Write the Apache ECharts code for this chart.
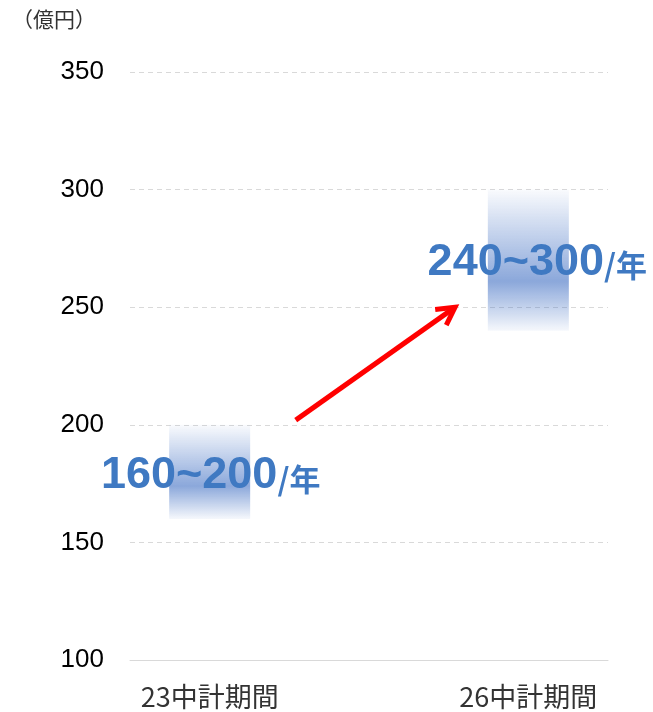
<!DOCTYPE html>
<html>
<head>
<meta charset="utf-8">
<script src="https://cdn.jsdelivr.net/npm/echarts@6/dist/echarts.min.js"></script>
<style>
  html, body { margin: 0; padding: 0; background: #fff; }
  #chart { width: 653px; height: 712px; }
</style>
</head>
<body>
<div id="chart"></div>
<script>
const categories = ['23中計期間', '26中計期間']
const lowValues = [160, 240]
const highValues = [200, 300]
const yTicks = [100, 150, 200, 250, 300, 350]
// arrow from / to, in data coords (x = category index)
const arrowFrom = [0.27, 202]
const arrowTo = [0.77, 250]

const chart = echarts.init(document.getElementById('chart'))
const blue = '#3f79c2'

const option = {
  animation: false,
  grid: { left: 130, right: 45, top: 72, bottom: 52 },
  graphic: [{
    type: 'text',
    left: 12,
    top: 9,
    style: { text: '（億円）', fontSize: 21, fill: '#333', fontFamily: 'Noto Sans CJK JP' }
  }],
  xAxis: {
    type: 'value',
    min: -0.25,
    max: 1.25,
    interval: 0.25,
    splitLine: { show: false },
    axisTick: { show: false },
    axisLine: { show: true, lineStyle: { color: '#d9d9d9', width: 1 } },
    axisLabel: {
      margin: 23,
      fontSize: 27,
      color: '#333',
      fontFamily: 'Noto Sans CJK JP',
      formatter: v => (Number.isInteger(v) && categories[v]) ? categories[v] : ''
    }
  },
  yAxis: {
    type: 'value',
    min: yTicks[0],
    max: yTicks[yTicks.length - 1],
    interval: 50,
    axisLine: { show: false },
    axisTick: { show: false },
    axisLabel: { fontSize: 26, color: '#000', margin: 26, fontFamily: 'Liberation Sans' },
    splitLine: { lineStyle: { color: '#d9d9d9', type: [5, 4], width: 1 } }
  },
  series: [
    {
      type: 'custom',
      data: categories.map((c, i) => [i, lowValues[i], highValues[i]]),
      renderItem: (params, api) => {
        const i = api.value(0)
        const top = api.coord([i, api.value(2)])
        const bot = api.coord([i, api.value(1)])
        const mid = api.coord([i, (api.value(1) + api.value(2)) / 2])
        const w = 81
        return {
          type: 'group',
          children: [
            {
              type: 'rect',
              shape: { x: top[0] - w / 2, y: top[1], width: w, height: bot[1] - top[1] },
              style: {
                fill: new echarts.graphic.LinearGradient(0, 0, 0, 1, [
                  { offset: 0, color: 'rgba(68,114,196,0.03)' },
                  { offset: 0.65, color: 'rgba(68,114,196,0.62)' },
                  { offset: 1, color: 'rgba(68,114,196,0.05)' }
                ])
              }
            },
            {
              type: 'text',
              x: mid[0] + (i === 1 ? 9 : 1),
              y: mid[1] + (i === 1 ? 2 : 4),
              style: {
                text: '{n|' + api.value(1) + '~' + api.value(2) + '}{u|/年}',
                align: 'center',
                verticalAlign: 'middle',
                rich: {
                  n: { fontSize: 45, fontWeight: 'bold', fill: blue, fontFamily: 'Liberation Sans' },
                  u: { fontSize: 31, fontWeight: 'bold', fill: blue, fontFamily: 'Noto Sans CJK JP', padding: [6, 0, 0, 0] }
                }
              }
            }
          ]
        }
      }
    },
    {
      type: 'custom',
      data: [[arrowFrom[0], arrowFrom[1], arrowTo[0], arrowTo[1]]],
      z: 5,
      renderItem: (params, api) => {
        const a = api.coord([api.value(0), api.value(1)])
        const b = api.coord([api.value(2), api.value(3)])
        const ang = Math.atan2(b[1] - a[1], b[0] - a[0])
        const len = 20
        const spread = 0.5
        const p1 = [b[0] - len * Math.cos(ang - spread), b[1] - len * Math.sin(ang - spread)]
        const p2 = [b[0] - len * Math.cos(ang + spread), b[1] - len * Math.sin(ang + spread)]
        const stroke = { stroke: '#ff0000', lineWidth: 5, fill: null, lineJoin: 'miter' }
        return {
          type: 'group',
          children: [
            { type: 'line', shape: { x1: a[0], y1: a[1], x2: b[0] - 2 * Math.cos(ang), y2: b[1] - 2 * Math.sin(ang) }, style: stroke },
            { type: 'polyline', shape: { points: [p1, b, p2] }, style: stroke }
          ]
        }
      }
    }
  ]
}

chart.setOption(option)

window.addEventListener('resize', () => {
  chart.resize()
})
</script>
</body>
</html>
